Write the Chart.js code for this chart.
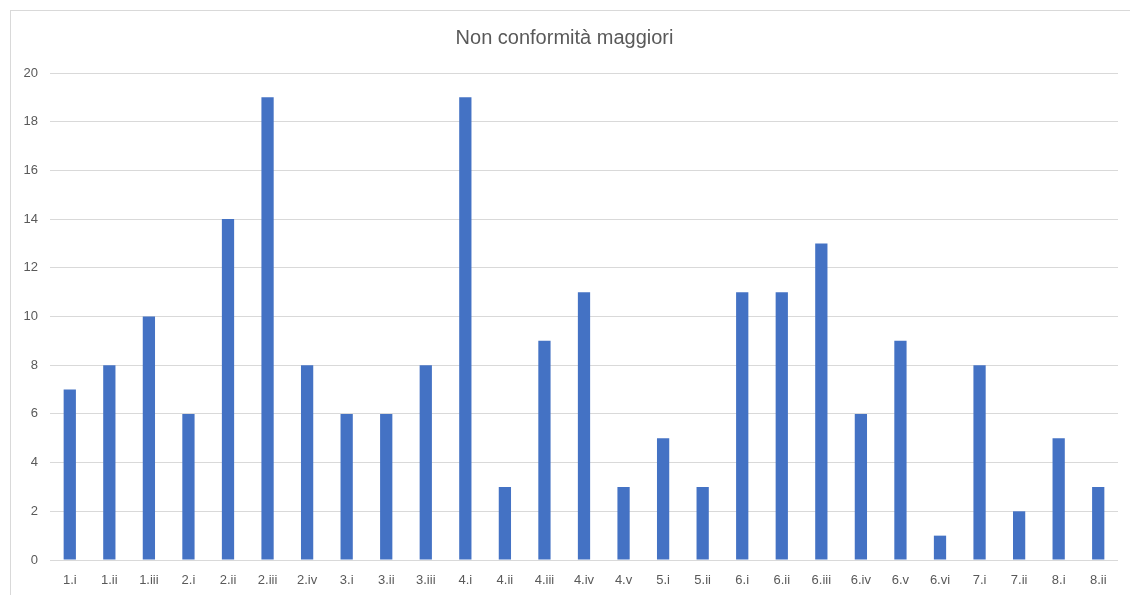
<!DOCTYPE html>
<html>
<head>
<meta charset="utf-8">
<script src="https://cdn.jsdelivr.net/npm/chart.js@4.4.0/dist/chart.umd.min.js"></script>
<style>
  html, body { margin: 0; padding: 0; background: #fff; overflow: hidden; }
  #frame {
    position: absolute; left: 10px; top: 10px;
    width: 1130px; height: 600px;
    border: 1px solid #d9d9d9;
  }
  #wrap { position: absolute; left: 0; top: 0; width: 1119px; height: 584px; }
</style>
</head>
<body>
<div id="frame"><div id="wrap"><canvas id="chart"></canvas></div></div>
<script>
const categories = ['1.i', '1.ii', '1.iii', '2.i', '2.ii', '2.iii', '2.iv', '3.i', '3.ii', '3.iii',
    '4.i', '4.ii', '4.iii', '4.iv', '4.v', '5.i', '5.ii', '6.i', '6.ii', '6.iii', '6.iv', '6.v',
    '6.vi', '7.i', '7.ii', '8.i', '8.ii'];
const values = [7, 8, 10, 6, 14, 19, 8, 6, 6, 8, 19, 3, 9, 11, 3, 5, 3, 11, 11, 13, 6, 9, 1, 8, 2, 5, 3];

const textColor = '#595959';
const fontFamily = "'Liberation Sans', 'DejaVu Sans', sans-serif";

document.addEventListener("DOMContentLoaded", () => {
    const ctx = document.getElementById('chart').getContext('2d');

    new Chart(ctx, {
        type: 'bar',
        data: {
            labels: categories,
            datasets: [{
                label: 'Non conformità maggiori',
                data: values,
                backgroundColor: '#4472C4',
                borderWidth: 0,
                barPercentage: 0.31,
                categoryPercentage: 1
            }]
        },
        options: {
            responsive: true,
            maintainAspectRatio: false,
            animation: false,
            layout: { padding: { left: 0, right: 12, top: 0, bottom: 0 } },
            plugins: {
                legend: { display: false },
                tooltip: { enabled: false },
                title: {
                    display: true,
                    text: 'Non conformità maggiori',
                    color: textColor,
                    font: { family: fontFamily, size: 20, weight: 'normal', lineHeight: 1.2 },
                    padding: { top: 15, bottom: 23 }
                }
            },
            scales: {
                x: {
                    grid: { display: false, drawTicks: false },
                    border: { display: false },
                    ticks: {
                        color: textColor,
                        font: { family: fontFamily, size: 13 },
                        padding: 13,
                        maxRotation: 0,
                        autoSkip: false
                    },
                    afterFit: (scale) => { scale.height = 35; }
                },
                y: {
                    min: 0,
                    max: 20,
                    grid: { color: '#d9d9d9', lineWidth: 1, drawTicks: false },
                    border: { display: false },
                    ticks: {
                        stepSize: 2,
                        color: textColor,
                        font: { family: fontFamily, size: 13 },
                        padding: 12
                    },
                    afterFit: (scale) => { scale.width = 39; }
                }
            }
        }
    });
});
</script>
</body>
</html>
